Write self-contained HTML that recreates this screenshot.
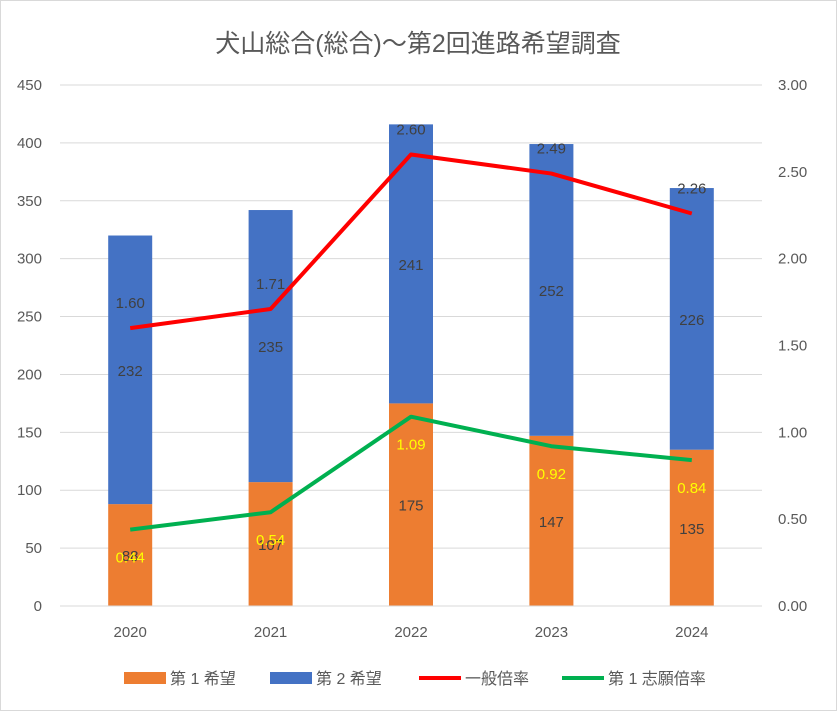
<!DOCTYPE html>
<html><head><meta charset="utf-8"><style>
body{margin:0;background:#fff}
svg{display:block;font-family:"Liberation Sans","Noto Sans CJK JP",sans-serif}
</style></head><body>
<svg id="c" width="837" height="711">
<rect x="0.5" y="0.5" width="836" height="710" fill="#fff" stroke="#d9d9d9"/>
<text x="418" y="52" text-anchor="middle" font-size="25" fill="#595959">犬山総合(総合)～第2回進路希望調査</text>
<g id="g"></g>
</svg>
<script>
const categories=["2020","2021","2022","2023","2024"];
const first=[88,107,175,147,135];
const second=[232,235,241,252,226];
const general=[1.60,1.71,2.60,2.49,2.26];
const firstChoice=[0.44,0.54,1.09,0.92,0.84];
const leftTicks=[0,50,100,150,200,250,300,350,400,450];
const rightTicks=["0.00","0.50","1.00","1.50","2.00","2.50","3.00"];
const NS="http://www.w3.org/2000/svg";
const g=document.getElementById('g');
const y0=606,yTop=85,xL=60,xR=762;
const yL=v=>y0-v/450*(y0-yTop);
const yR=v=>y0-v/3*(y0-yTop);
const step=(xR-xL)/categories.length;
const xc=i=>xL+step*(i+0.5);
const bw=44;
function el(t,a,txt){const e=document.createElementNS(NS,t);for(const k in a)e.setAttribute(k,a[k]);if(txt!==undefined)e.textContent=txt;g.appendChild(e);return e;}
leftTicks.forEach(v=>{
 const l=el('line',{x1:xL,x2:xR,y1:yL(v),y2:yL(v),stroke:'#d9d9d9'});
 
 
 const t=el('text',{x:42,y:yL(v)+5,'text-anchor':'end','font-size':15,fill:'#595959'},v);
 
 
});
rightTicks.forEach(v=>{
 const t=el('text',{x:778,y:yR(+v)+5,'font-size':15,fill:'#595959'},v);
 
 
});
categories.forEach((c,i)=>{
 const x=xc(i);
 const b1=el('rect',{x:x-bw/2,y:yL(first[i]),width:bw,height:y0-yL(first[i]),fill:'#ed7d31'});
 
 
 const b2=el('rect',{x:x-bw/2,y:yL(first[i]+second[i]),width:bw,height:yL(first[i])-yL(first[i]+second[i]),fill:'#4472c4'});
 
 
 const t1=el('text',{x:x,y:(y0+yL(first[i]))/2+6,'text-anchor':'middle','font-size':15,fill:'#404040'},first[i]);
 
 
 const t2=el('text',{x:x,y:(yL(first[i])+yL(first[i]+second[i]))/2+6,'text-anchor':'middle','font-size':15,fill:'#404040'},second[i]);
 
 
 const cl=el('text',{x:x,y:637,'text-anchor':'middle','font-size':15,fill:'#595959'},c);
 
 
});
const axis=el('line',{x1:xL,x2:xR,y1:y0,y2:y0,stroke:'#d9d9d9'});


const gp=el('polyline',{points:general.map((v,i)=>xc(i)+','+yR(v)).join(' '),fill:'none',stroke:'#ff0000','stroke-width':4,'stroke-linejoin':'round'});


const fp=el('polyline',{points:firstChoice.map((v,i)=>xc(i)+','+yR(v)).join(' '),fill:'none',stroke:'#00b050','stroke-width':4,'stroke-linejoin':'round'});


general.forEach((v,i)=>{
 const t=el('text',{x:xc(i),y:yR(v)-20,'text-anchor':'middle','font-size':15,fill:'#404040'},v.toFixed(2));
 
 
});
firstChoice.forEach((v,i)=>{
 const t=el('text',{x:xc(i),y:yR(v)+33,'text-anchor':'middle','font-size':15,fill:'#ffff00'},v.toFixed(2));
 
 
});
const legend=[["rect","#ed7d31","第 1 希望",124],["rect","#4472c4","第 2 希望",270],["line","#ff0000","一般倍率",419],["line","#00b050","第 1 志願倍率",562]];
legend.forEach(([k,col,lab,x])=>{
 let m;
 if(k==='rect')m=el('rect',{x:x,y:672,width:42,height:12,fill:col});
 else m=el('line',{x1:x,x2:x+42,y1:678,y2:678,stroke:col,'stroke-width':4});
 
 
 const t=el('text',{x:x+46,y:684,'font-size':16,fill:'#595959'},lab);
 
 
});
</script>
</body></html>
